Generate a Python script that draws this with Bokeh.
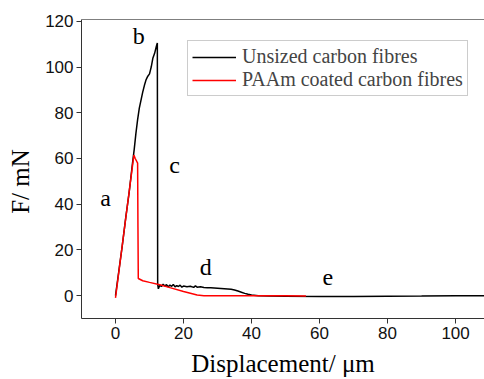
from bokeh.plotting import figure
from bokeh.models import Range1d, FixedTicker, Legend, LegendItem, Span, ColumnDataSource
from bokeh.core.properties import value
from bokeh.embed import file_html
from bokeh.resources import INLINE

# Unsized carbon fibres (black)
black_x = [0, 1, 2, 3, 4, 5, 5.5, 6, 6.5, 7, 8, 8.5, 9, 9.5, 10, 10.5, 11, 11.5, 12, 12.3,
           12.4, 12.6, 13, 13.5, 14, 14.5, 15, 15.5, 16, 16.5, 17, 17.5, 18, 18.5,
           19, 19.5, 20, 21, 22, 23, 23.5, 24, 25, 26, 27, 28, 29, 30, 31, 32, 33,
           34, 35, 36, 37, 38, 39, 40, 42, 45, 50, 60, 70, 80, 90, 100, 105, 110]
black_y = [0, 11, 22, 34, 45, 58, 64, 71, 77, 82, 89, 92, 94.5, 96, 97, 100, 104, 106, 109, 110.5,
           5, 3, 4.5, 4.0, 5.0, 4.2, 4.8, 3.9, 4.6, 4.1, 4.9, 3.8, 4.4, 4.0,
           4.6, 3.7, 4.2, 3.9, 4.1, 3.6, 4.3, 3.7, 3.9, 3.6, 3.5, 3.4, 3.3, 3.2, 3.1, 3.0, 2.9,
           2.8, 2.5, 2.0, 1.5, 1.0, 0.6, 0.3, 0.0, -0.2, -0.3, -0.4, -0.4, -0.3, -0.2, 0.0, -0.1, -0.1]

# PAAm coated carbon fibres (red)
red_x = [0, 5.4, 5.8, 6.5, 6.6, 6.7, 8, 10, 13, 16, 20, 24, 26, 30, 40, 50, 56]
red_y = [-1, 61.5, 60, 58, 30, 7.5, 6.5, 5.8, 4.8, 3.5, 1.8, 0.3, 0, 0, 0, -0.1, -0.2]

x_ticks = [0, 20, 40, 60, 80, 100]
y_ticks = [0, 20, 40, 60, 80, 100, 120]

stage_labels = ["a", "b", "c", "d", "e"]
stage_x = [-2.9, 6.8, 17.4, 26.5, 62.4]
stage_y = [42.9, 113.7, 57.2, 12.5, 8.1]

SERIF = "Liberation Serif"
SANS = "Liberation Sans"

p = figure(width=484, height=379, output_backend="svg", toolbar_location=None,
           x_range=Range1d(-10, 108.5), y_range=Range1d(-10, 120.8),
           min_border_left=81, min_border_right=0, min_border_top=19, min_border_bottom=59)
p.background_fill_color = "white"
p.border_fill_color = "white"
p.outline_line_color = None
p.grid.visible = False

lb = p.line(black_x, black_y, line_color="black", line_width=1.5)
lr = p.line(red_x, red_y, line_color="#ff0000", line_width=1.5)

p.add_layout(Span(location=120.8, dimension="width", line_color="black", line_width=1.2))

for ax in (p.xaxis[0], p.yaxis[0]):
    ax.major_tick_out = 5
    ax.major_tick_in = 0
    ax.minor_tick_out = 0
    ax.minor_tick_in = 0
    ax.axis_line_color = "#333333"
    ax.major_tick_line_color = "#333333"
    ax.major_label_text_font = SANS
    ax.major_label_text_font_size = "17px"
    ax.major_label_text_color = "#111111"
    ax.major_label_standoff = 3
    ax.axis_label_text_font = SERIF
    ax.axis_label_text_font_size = "25px"
    ax.axis_label_text_font_style = "normal"
    ax.axis_label_text_color = "black"

p.xaxis.ticker = FixedTicker(ticks=x_ticks)
p.yaxis.ticker = FixedTicker(ticks=y_ticks)
p.xaxis.axis_label = "Displacement/ μm"
p.yaxis.axis_label = "F/ mN\u00a0\u00a0\u00a0\u00a0"
p.xaxis.axis_label_standoff = 8
p.yaxis.axis_label_standoff = 8

src = ColumnDataSource(dict(x=stage_x, y=stage_y, t=stage_labels))
p.text(x="x", y="y", text="t", source=src, text_font=value(SERIF), text_font_size="24px",
       text_align="center", text_baseline="middle", text_color="black")

legend = Legend(items=[LegendItem(label="Unsized carbon fibres", renderers=[lb]),
                       LegendItem(label="PAAm coated carbon fibres", renderers=[lr])],
                location=(106, 222))
legend.label_text_font = SERIF
legend.label_text_font_size = "20px"
legend.label_standoff = 6
legend.glyph_width = 44
legend.glyph_height = 20
legend.label_height = 20
legend.padding = 4
legend.spacing = 0
legend.margin = 0
legend.border_line_color = "#999999"
legend.border_line_width = 1
legend.background_fill_alpha = 1
p.add_layout(legend)

open("out.html", "w").write(file_html(p, INLINE))
